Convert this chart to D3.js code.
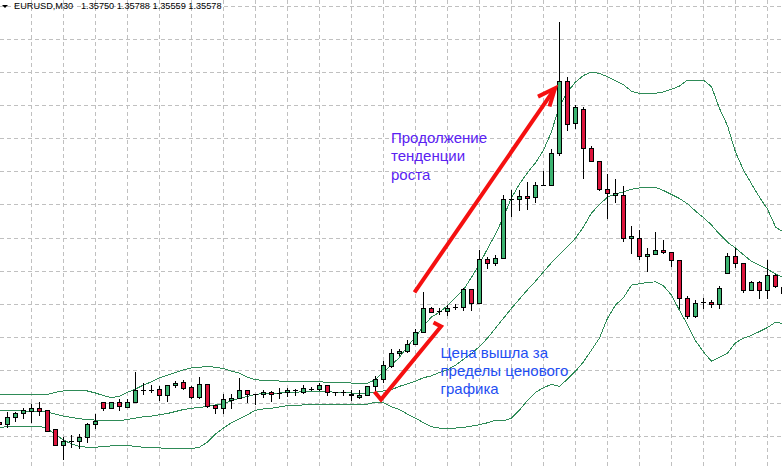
<!DOCTYPE html>
<html lang="ru">
<head>
    <meta charset="UTF-8">
    <script src="https://d3js.org/d3.v7.min.js"></script>
    <style>
        html, body { margin: 0; padding: 0; background: #fff; }
        svg { display: block; }
    </style>
</head>
<body>
    <svg id="chart" width="782" height="467"></svg>

    <script>
        // EURUSD M30, one value per bar (bar 0 is cut by the left edge)
        const symbol = "EURUSD,M30";
        const lastQuote = ["1.35750", "1.35788", "1.35559", "1.35578"];

        const open = [
            1.35371, 1.35368, 1.35378, 1.35385, 1.35388, 1.35392, 1.35389, 1.35361, 1.35337, 1.35342,
            1.35343, 1.35348, 1.35368, 1.35401, 1.35393, 1.35401, 1.35394, 1.35402, 1.35420, 1.35420,
            1.35421, 1.35412, 1.35427, 1.35431, 1.35424, 1.35409, 1.35429, 1.35397, 1.35393, 1.35404,
            1.35408, 1.35420, 1.35414, 1.35413, 1.35417, 1.35415, 1.35416, 1.35419, 1.35417, 1.35421,
            1.35421, 1.35427, 1.35416, 1.35416, 1.35414, 1.35409, 1.35412, 1.35426, 1.35436, 1.35456,
            1.35475, 1.35478, 1.35489, 1.35507, 1.35543, 1.35539, 1.35539, 1.35545, 1.35545, 1.35572,
            1.35551, 1.35617, 1.35612, 1.35619, 1.35708, 1.35708, 1.35713, 1.35711, 1.35729, 1.35729,
            1.35777, 1.35887, 1.35823, 1.35845, 1.35785, 1.35766, 1.35724, 1.35715, 1.35715, 1.35649,
            1.35650, 1.35622, 1.35625, 1.35631, 1.35628, 1.35616, 1.35558, 1.35532, 1.35552, 1.35552,
            1.35549, 1.35597, 1.35622, 1.35611, 1.35571, 1.35583, 1.35571, 1.35593, 1.35575
        ];
        const high = [
            1.35376, 1.35386, 1.35387, 1.35392, 1.35398, 1.35401, 1.35389, 1.35361, 1.35349, 1.35351,
            1.35353, 1.35370, 1.35383, 1.35401, 1.35402, 1.35406, 1.35406, 1.35447, 1.35430, 1.35427,
            1.35425, 1.35427, 1.35433, 1.35435, 1.35426, 1.35439, 1.35429, 1.35397, 1.35413, 1.35414,
            1.35438, 1.35420, 1.35414, 1.35420, 1.35418, 1.35423, 1.35423, 1.35421, 1.35427, 1.35424,
            1.35430, 1.35427, 1.35416, 1.35420, 1.35420, 1.35420, 1.35425, 1.35441, 1.35463, 1.35481,
            1.35481, 1.35495, 1.35511, 1.35567, 1.35545, 1.35543, 1.35548, 1.35549, 1.35574, 1.35572,
            1.35631, 1.35621, 1.35624, 1.35715, 1.35722, 1.35722, 1.35734, 1.35734, 1.35751, 1.35784,
            1.35976, 1.35893, 1.35850, 1.35848, 1.35789, 1.35766, 1.35746, 1.35738, 1.35728, 1.35667,
            1.35661, 1.35634, 1.35658, 1.35646, 1.35628, 1.35616, 1.35562, 1.35556, 1.35559, 1.35556,
            1.35576, 1.35627, 1.35634, 1.35611, 1.35584, 1.35584, 1.35616, 1.35595, 1.35578
        ];
        const low = [
            1.35365, 1.35364, 1.35372, 1.35377, 1.35371, 1.35382, 1.35357, 1.35337, 1.35315, 1.35334,
            1.35332, 1.35341, 1.35362, 1.35389, 1.35392, 1.35390, 1.35394, 1.35402, 1.35413, 1.35416,
            1.35404, 1.35403, 1.35424, 1.35421, 1.35408, 1.35407, 1.35394, 1.35385, 1.35385, 1.35392,
            1.35408, 1.35402, 1.35399, 1.35409, 1.35403, 1.35408, 1.35411, 1.35412, 1.35415, 1.35420,
            1.35420, 1.35412, 1.35412, 1.35412, 1.35404, 1.35408, 1.35412, 1.35420, 1.35431, 1.35455,
            1.35472, 1.35477, 1.35489, 1.35507, 1.35537, 1.35534, 1.35533, 1.35542, 1.35540, 1.35541,
            1.35551, 1.35604, 1.35608, 1.35619, 1.35683, 1.35692, 1.35693, 1.35703, 1.35729, 1.35729,
            1.35774, 1.35812, 1.35816, 1.35740, 1.35765, 1.35722, 1.35680, 1.35704, 1.35645, 1.35626,
            1.35617, 1.35600, 1.35625, 1.35626, 1.35607, 1.35543, 1.35529, 1.35530, 1.35543, 1.35545,
            1.35543, 1.35596, 1.35606, 1.35568, 1.35571, 1.35558, 1.35559, 1.35575, 1.35556
        ];
        const close = [
            1.35368, 1.35378, 1.35384, 1.35389, 1.35393, 1.35388, 1.35358, 1.35337, 1.35342, 1.35342,
            1.35348, 1.35368, 1.35373, 1.35393, 1.35401, 1.35396, 1.35402, 1.35420, 1.35420, 1.35420,
            1.35412, 1.35427, 1.35430, 1.35423, 1.35409, 1.35429, 1.35396, 1.35393, 1.35406, 1.35408,
            1.35420, 1.35413, 1.35414, 1.35417, 1.35414, 1.35415, 1.35420, 1.35419, 1.35422, 1.35421,
            1.35427, 1.35416, 1.35416, 1.35416, 1.35412, 1.35412, 1.35425, 1.35436, 1.35457, 1.35475,
            1.35478, 1.35489, 1.35507, 1.35543, 1.35538, 1.35539, 1.35544, 1.35545, 1.35572, 1.35551,
            1.35617, 1.35612, 1.35619, 1.35708, 1.35708, 1.35713, 1.35710, 1.35730, 1.35729, 1.35777,
            1.35887, 1.35821, 1.35847, 1.35785, 1.35765, 1.35723, 1.35717, 1.35717, 1.35650, 1.35652,
            1.35622, 1.35625, 1.35631, 1.35628, 1.35616, 1.35558, 1.35532, 1.35551, 1.35552, 1.35549,
            1.35574, 1.35622, 1.35612, 1.35571, 1.35583, 1.35571, 1.35593, 1.35576, 1.35566
        ];

        // Bollinger Bands as drawn on the chart
        const bandUpper = [
            1.35413, 1.35413, 1.35413, 1.35413, 1.35413, 1.35413, 1.35413, 1.35416, 1.35418, 1.35419,
            1.35419, 1.35418, 1.35415, 1.35411, 1.35408, 1.35410, 1.35416, 1.35421, 1.35427, 1.35432,
            1.35438, 1.35442, 1.35446, 1.35450, 1.35453, 1.35454, 1.35455, 1.35454, 1.35452, 1.35448,
            1.35445, 1.35439, 1.35435, 1.35434, 1.35434, 1.35433, 1.35433, 1.35432, 1.35432, 1.35432,
            1.35432, 1.35431, 1.35431, 1.35431, 1.35430, 1.35430, 1.35430, 1.35435, 1.35447, 1.35457,
            1.35469, 1.35485, 1.35500, 1.35516, 1.35530, 1.35537, 1.35547, 1.35559, 1.35571, 1.35590,
            1.35610, 1.35633, 1.35655, 1.35681, 1.35710, 1.35731, 1.35748, 1.35763, 1.35782, 1.35810,
            1.35849, 1.35870, 1.35885, 1.35895, 1.35900, 1.35898, 1.35893, 1.35887, 1.35881, 1.35871,
            1.35868, 1.35868, 1.35868, 1.35870, 1.35874, 1.35879, 1.35888, 1.35888, 1.35888, 1.35878,
            1.35845, 1.35819, 1.35779, 1.35752, 1.35731, 1.35711, 1.35693, 1.35666, 1.35658
        ];
        const bandMiddle = [
            1.35389, 1.35389, 1.35388, 1.35388, 1.35387, 1.35387, 1.35386, 1.35383, 1.35380, 1.35378,
            1.35376, 1.35375, 1.35374, 1.35373, 1.35373, 1.35373, 1.35375, 1.35377, 1.35379, 1.35380,
            1.35382, 1.35384, 1.35387, 1.35390, 1.35392, 1.35393, 1.35395, 1.35397, 1.35399, 1.35403,
            1.35407, 1.35410, 1.35413, 1.35414, 1.35414, 1.35415, 1.35416, 1.35416, 1.35417, 1.35417,
            1.35417, 1.35417, 1.35416, 1.35416, 1.35415, 1.35414, 1.35415, 1.35416, 1.35418, 1.35420,
            1.35425, 1.35429, 1.35433, 1.35438, 1.35441, 1.35446, 1.35450, 1.35457, 1.35466, 1.35475,
            1.35485, 1.35498, 1.35513, 1.35528, 1.35543, 1.35557, 1.35571, 1.35584, 1.35598, 1.35612,
            1.35624, 1.35636, 1.35649, 1.35666, 1.35687, 1.35700, 1.35711, 1.35716, 1.35719, 1.35723,
            1.35725, 1.35726, 1.35726, 1.35721, 1.35715, 1.35709, 1.35701, 1.35690, 1.35680, 1.35669,
            1.35655, 1.35643, 1.35634, 1.35624, 1.35614, 1.35608, 1.35602, 1.35595, 1.35589
        ];
        const bandLower = [
            1.35363, 1.35364, 1.35365, 1.35365, 1.35365, 1.35365, 1.35361, 1.35352, 1.35344, 1.35338,
            1.35334, 1.35333, 1.35333, 1.35334, 1.35335, 1.35336, 1.35336, 1.35334, 1.35333, 1.35332,
            1.35332, 1.35331, 1.35331, 1.35331, 1.35331, 1.35333, 1.35341, 1.35353, 1.35362, 1.35370,
            1.35376, 1.35382, 1.35389, 1.35391, 1.35392, 1.35394, 1.35396, 1.35396, 1.35397, 1.35397,
            1.35397, 1.35397, 1.35397, 1.35398, 1.35398, 1.35398, 1.35398, 1.35401, 1.35400, 1.35394,
            1.35390, 1.35383, 1.35377, 1.35370, 1.35364, 1.35362, 1.35362, 1.35362, 1.35363, 1.35365,
            1.35367, 1.35370, 1.35374, 1.35373, 1.35377, 1.35389, 1.35404, 1.35416, 1.35423, 1.35428,
            1.35425, 1.35436, 1.35448, 1.35462, 1.35480, 1.35498, 1.35528, 1.35548, 1.35559, 1.35578,
            1.35580, 1.35582, 1.35583, 1.35577, 1.35563, 1.35540, 1.35518, 1.35494, 1.35477, 1.35463,
            1.35469, 1.35475, 1.35491, 1.35498, 1.35502, 1.35508, 1.35514, 1.35522, 1.35520
        ];

        // grid: price levels and bar indices
        const gridPrices = [1.3600, 1.3595, 1.3590, 1.3585, 1.3580, 1.3575, 1.3570,
                            1.3565, 1.3560, 1.3555, 1.3550, 1.3545, 1.3540, 1.3535];
        const gridBars = [4, 8, 12, 16, 20, 24, 28, 32, 36, 40, 44, 48,
                          52, 56, 60, 64, 68, 72, 76, 80, 84, 88, 92, 96];

        // hand drawn annotations, in [bar, price]
        const trendArrow = [[51.875, 1.35567], [69.44, 1.358755]];
        const arrowHead = [[67.31, 1.35863], [69.44, 1.358755], [68.75, 1.35848]];
        const breakoutMark = [[46.875, 1.35417], [47.69, 1.35405], [55.19, 1.355155], [54.25, 1.355215]];
        const noteTrend = ["Продолжение", "тенденции", "роста"];
        const noteBreakout = ["Цена вышла за", "пределы ценового", "графика"];

        const width = 782, height = 467;
        const bullColor = "#3cb371", bearColor = "#dc143c", bandColor = "#2e8b57";

        const svg = d3.select("#chart");

        const x = d3.scaleLinear().domain([0, 98]).range([-0.5, 783.5]);
        const y = d3.scaleLinear().domain([1.36009, 1.3530313]).range([0, height]);

        // Grid
        const grid = svg.append("g")
            .attr("stroke", "#c0c0c0")
            .attr("stroke-dasharray", "4,3");
        grid.selectAll(".hgrid")
            .data(gridPrices)
            .enter().append("line")
            .attr("class", "hgrid")
            .attr("x1", 0).attr("x2", width)
            .attr("y1", d => Math.round(y(d)) + 0.5)
            .attr("y2", d => Math.round(y(d)) + 0.5);
        grid.selectAll(".vgrid")
            .data(gridBars)
            .enter().append("line")
            .attr("class", "vgrid")
            .attr("y1", 0).attr("y2", height)
            .attr("x1", d => x(d))
            .attr("x2", d => x(d));

        // Bollinger bands
        const bandLine = d3.line()
            .x((d, i) => x(i))
            .y(d => y(d));
        [bandUpper, bandMiddle, bandLower].forEach(band => {
            svg.append("path")
                .attr("d", bandLine(band))
                .attr("fill", "none")
                .attr("stroke", bandColor)
                .attr("stroke-width", 1)
                .attr("shape-rendering", "crispEdges");
        });

        // Candles
        const bars = open.map((o, i) => ({
            i: i, o: o, h: high[i], l: low[i], c: close[i]
        }));
        const candle = svg.append("g").selectAll(".candle")
            .data(bars)
            .enter().append("g")
            .attr("class", "candle");

        candle.append("line")
            .attr("x1", d => x(d.i)).attr("x2", d => x(d.i))
            .attr("y1", d => Math.round(y(d.h)))
            .attr("y2", d => Math.round(y(d.l)) + 1)
            .attr("stroke", "#000");

        candle.filter(d => Math.round(y(d.o)) !== Math.round(y(d.c)))
            .append("rect")
            .attr("x", d => x(d.i) - 2)
            .attr("width", 4)
            .attr("y", d => Math.round(y(Math.max(d.o, d.c))) + 0.5)
            .attr("height", d => Math.round(y(Math.min(d.o, d.c))) - Math.round(y(Math.max(d.o, d.c))))
            .attr("fill", d => d.c > d.o ? bullColor : bearColor)
            .attr("stroke", "#000");

        candle.filter(d => Math.round(y(d.o)) === Math.round(y(d.c)))
            .append("line")
            .attr("x1", d => x(d.i) - 2.5).attr("x2", d => x(d.i) + 2.5)
            .attr("y1", d => Math.round(y(d.c)) + 0.5)
            .attr("y2", d => Math.round(y(d.c)) + 0.5)
            .attr("stroke", "#000");

        // Annotations
        const pt = d => [x(d[0]), y(d[1])];
        const red = "#f51010";
        svg.append("path")
            .attr("d", d3.line()(trendArrow.map(pt)))
            .attr("fill", "none").attr("stroke", red).attr("stroke-width", 4);
        svg.append("path")
            .attr("d", d3.line()(arrowHead.map(pt)))
            .attr("fill", "none").attr("stroke", red).attr("stroke-width", 4)
            .attr("stroke-linejoin", "miter");
        svg.append("path")
            .attr("d", d3.line()(breakoutMark.map(pt)))
            .attr("fill", "none").attr("stroke", red).attr("stroke-width", 4)
            .attr("stroke-linejoin", "miter");

        const font = "'Liberation Sans', Arial, sans-serif";
        svg.append("text")
            .attr("font-family", font).attr("font-size", 15).attr("fill", "#5a22f2")
            .selectAll("tspan")
            .data(noteTrend)
            .enter().append("tspan")
            .attr("x", 391)
            .attr("y", (d, i) => 142.5 + i * 18.5)
            .text(d => d);
        svg.append("text")
            .attr("font-family", font).attr("font-size", 15).attr("fill", "#1f4ef2")
            .selectAll("tspan")
            .data(noteBreakout)
            .enter().append("tspan")
            .attr("x", 440.5)
            .attr("y", (d, i) => 357.5 + i * 18)
            .text(d => d);

        // Header
        svg.append("path")
            .attr("d", "M2,5 L8,5 L5,8 Z")
            .attr("fill", "#000");
        const header = svg.append("text")
            .attr("font-family", font).attr("font-size", 9.2).attr("fill", "#000")
            .attr("y", 9);
        header.append("tspan").attr("x", 14).text(symbol);
        header.append("tspan").attr("x", 81).text(lastQuote.join(" "));
    </script>
</body>
</html>
